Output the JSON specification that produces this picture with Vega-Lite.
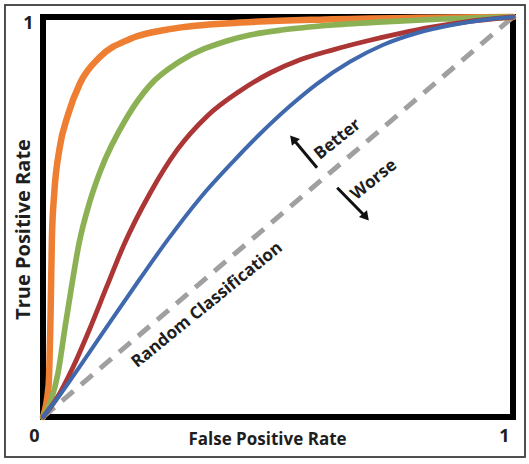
{
  "$schema": "https://vega.github.io/schema/vega-lite/v6.json",
  "width": 470,
  "height": 400,
  "autosize": {"type": "none"},
  "padding": {"left": 43, "top": 17, "right": 16, "bottom": 47},
  "background": "white",
  "config": {
    "view": {"stroke": "#000000", "strokeWidth": 6},
    "font": "Open Sans",
    "axis": {"grid": false, "domain": false, "ticks": false, "labelFlush": false, "labelColor": "#1e1e1e", "titleColor": "#1e1e1e", "labelFont": "Open Sans", "titleFont": "Open Sans", "labelFontWeight": "bold", "titleFontWeight": "bold", "labelFontSize": 18, "titleFontSize": 17}
  },
  "datasets": {
    "curves": [
      {"series": "orange", "fpr": 0, "tpr": 0},
      {"series": "orange", "fpr": 0.012, "tpr": 0.08},
      {"series": "orange", "fpr": 0.016, "tpr": 0.25},
      {"series": "orange", "fpr": 0.019, "tpr": 0.45},
      {"series": "orange", "fpr": 0.024, "tpr": 0.56},
      {"series": "orange", "fpr": 0.035, "tpr": 0.67},
      {"series": "orange", "fpr": 0.053, "tpr": 0.755},
      {"series": "orange", "fpr": 0.079, "tpr": 0.835},
      {"series": "orange", "fpr": 0.121, "tpr": 0.9},
      {"series": "orange", "fpr": 0.185, "tpr": 0.945},
      {"series": "orange", "fpr": 0.277, "tpr": 0.971},
      {"series": "orange", "fpr": 0.419, "tpr": 0.986},
      {"series": "orange", "fpr": 0.6, "tpr": 0.994},
      {"series": "orange", "fpr": 0.8, "tpr": 0.998},
      {"series": "orange", "fpr": 1, "tpr": 1},
      {"series": "green", "fpr": 0, "tpr": 0},
      {"series": "green", "fpr": 0.018, "tpr": 0.045},
      {"series": "green", "fpr": 0.032, "tpr": 0.11},
      {"series": "green", "fpr": 0.047, "tpr": 0.225},
      {"series": "green", "fpr": 0.062, "tpr": 0.335},
      {"series": "green", "fpr": 0.076, "tpr": 0.43},
      {"series": "green", "fpr": 0.1, "tpr": 0.54},
      {"series": "green", "fpr": 0.121, "tpr": 0.612},
      {"series": "green", "fpr": 0.179, "tpr": 0.75},
      {"series": "green", "fpr": 0.228, "tpr": 0.83},
      {"series": "green", "fpr": 0.291, "tpr": 0.889},
      {"series": "green", "fpr": 0.391, "tpr": 0.94},
      {"series": "green", "fpr": 0.44, "tpr": 0.955},
      {"series": "green", "fpr": 0.511, "tpr": 0.968},
      {"series": "green", "fpr": 0.617, "tpr": 0.98},
      {"series": "green", "fpr": 0.723, "tpr": 0.988},
      {"series": "green", "fpr": 0.85, "tpr": 0.995},
      {"series": "green", "fpr": 1, "tpr": 1},
      {"series": "red", "fpr": 0, "tpr": 0},
      {"series": "red", "fpr": 0.03, "tpr": 0.048},
      {"series": "red", "fpr": 0.064, "tpr": 0.125},
      {"series": "red", "fpr": 0.1, "tpr": 0.222},
      {"series": "red", "fpr": 0.136, "tpr": 0.327},
      {"series": "red", "fpr": 0.172, "tpr": 0.43},
      {"series": "red", "fpr": 0.228, "tpr": 0.56},
      {"series": "red", "fpr": 0.285, "tpr": 0.667},
      {"series": "red", "fpr": 0.349, "tpr": 0.752},
      {"series": "red", "fpr": 0.419, "tpr": 0.815},
      {"series": "red", "fpr": 0.483, "tpr": 0.86},
      {"series": "red", "fpr": 0.547, "tpr": 0.893},
      {"series": "red", "fpr": 0.617, "tpr": 0.918},
      {"series": "red", "fpr": 0.689, "tpr": 0.94},
      {"series": "red", "fpr": 0.76, "tpr": 0.959},
      {"series": "red", "fpr": 0.823, "tpr": 0.974},
      {"series": "red", "fpr": 0.9, "tpr": 0.988},
      {"series": "red", "fpr": 1, "tpr": 1},
      {"series": "blue", "fpr": 0, "tpr": 0},
      {"series": "blue", "fpr": 0.036, "tpr": 0.055},
      {"series": "blue", "fpr": 0.085, "tpr": 0.138},
      {"series": "blue", "fpr": 0.143, "tpr": 0.238},
      {"series": "blue", "fpr": 0.206, "tpr": 0.345},
      {"series": "blue", "fpr": 0.266, "tpr": 0.444},
      {"series": "blue", "fpr": 0.334, "tpr": 0.547},
      {"series": "blue", "fpr": 0.404, "tpr": 0.638},
      {"series": "blue", "fpr": 0.462, "tpr": 0.708},
      {"series": "blue", "fpr": 0.526, "tpr": 0.778},
      {"series": "blue", "fpr": 0.583, "tpr": 0.833},
      {"series": "blue", "fpr": 0.653, "tpr": 0.888},
      {"series": "blue", "fpr": 0.723, "tpr": 0.93},
      {"series": "blue", "fpr": 0.796, "tpr": 0.96},
      {"series": "blue", "fpr": 0.87, "tpr": 0.98},
      {"series": "blue", "fpr": 0.94, "tpr": 0.993},
      {"series": "blue", "fpr": 1, "tpr": 1}
    ],
    "diagonal": [
      {"fpr": 0, "tpr": 0},
      {"fpr": 1, "tpr": 1}
    ],
    "arrows": [
      {"dir": "better", "fpr": 0.583, "tpr": 0.623, "fpr2": 0.532, "tpr2": 0.695},
      {"dir": "worse", "fpr": 0.626, "tpr": 0.573, "fpr2": 0.687, "tpr2": 0.5}
    ],
    "labels": [
      {"label": "Random Classification", "fpr": 0.349, "tpr": 0.28},
      {"label": "Better", "fpr": 0.627, "tpr": 0.694},
      {"label": "Worse", "fpr": 0.704, "tpr": 0.593}
    ]
  },
  "encoding": {
    "x": {"field": "fpr", "type": "quantitative", "scale": {"domain": [0, 1], "nice": false, "zero": false},
      "axis": {"values": [0, 1], "format": "d", "labelOffset": -9, "labelPadding": 10, "title": "False Positive Rate", "titleX": 224, "titleY": 27, "titleBaseline": "alphabetic"}},
    "y": {"field": "tpr", "type": "quantitative", "scale": {"domain": [0, 1], "nice": false, "zero": false},
      "axis": {"values": [1], "format": "d", "labelOffset": 6, "labelPadding": 10, "labelBaseline": "middle", "title": "True Positive Rate", "titleFontSize": 20, "titleX": -20, "titleY": 212, "titleAngle": -90, "titleAlign": "center", "titleBaseline": "middle"}}
  },
  "layer": [
    {
      "data": {"name": "diagonal"},
      "mark": {"type": "rect", "fill": null, "stroke": "#444444", "strokeWidth": 1.5},
      "encoding": {
        "x": {"datum": -0.081},
        "x2": {"datum": 1.0255},
        "y": {"datum": -0.1},
        "y2": {"datum": 1.03}
      }
    },
    {
      "data": {"name": "diagonal"},
      "mark": {"type": "line", "color": "#a0a0a0", "strokeWidth": 5, "strokeDash": [15, 10]},
      "encoding": {}
    },
    {
      "data": {"name": "curves"},
      "mark": {"type": "line", "interpolate": "monotone", "strokeCap": "round"},
      "encoding": {
        "color": {"field": "series", "type": "nominal", "legend": null,
          "scale": {"domain": ["orange", "green", "red", "blue"], "range": ["#ee7f32", "#8cb154", "#ac3535", "#3f68ad"]}},
        "strokeWidth": {"field": "series", "type": "nominal", "legend": null,
          "scale": {"domain": ["orange", "green", "red", "blue"], "range": [6.5, 4, 5, 3]}}
      }
    },
    {
      "data": {"name": "arrows"},
      "mark": {"type": "rule", "color": "#111111", "strokeWidth": 3},
      "encoding": {
        "x2": {"field": "fpr2"},
        "y2": {"field": "tpr2"}
      }
    },
    {
      "data": {"name": "arrows"},
      "transform": [{"filter": "datum.dir === 'better'"}],
      "mark": {"type": "point", "shape": "triangle-up", "filled": true, "color": "#111111", "size": 110, "angle": 320, "opacity": 1},
      "encoding": {
        "x": {"field": "fpr2", "type": "quantitative"},
        "y": {"field": "tpr2", "type": "quantitative"}
      }
    },
    {
      "data": {"name": "arrows"},
      "transform": [{"filter": "datum.dir === 'worse'"}],
      "mark": {"type": "point", "shape": "triangle-up", "filled": true, "color": "#111111", "size": 110, "angle": 140, "opacity": 1},
      "encoding": {
        "x": {"field": "fpr2", "type": "quantitative"},
        "y": {"field": "tpr2", "type": "quantitative"}
      }
    },
    {
      "data": {"name": "labels"},
      "mark": {"type": "text", "font": "Open Sans", "fontWeight": "bold", "fontSize": 17, "angle": -39, "color": "#1e1e1e", "align": "center", "baseline": "middle"},
      "encoding": {
        "text": {"field": "label"}
      }
    }
  ]
}
